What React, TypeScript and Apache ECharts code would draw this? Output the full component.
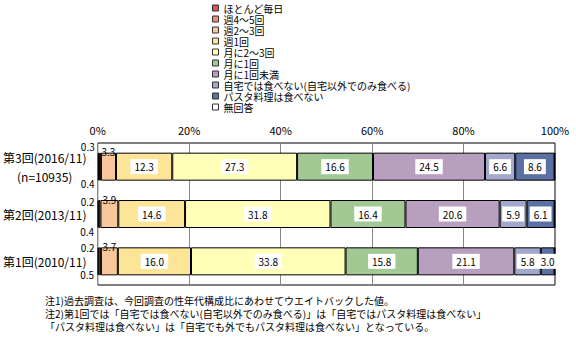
import React, { useEffect, useRef } from "react";
import * as echarts from "echarts";

const categories = ["第3回(2016/11)\n(n=10935)", "第2回(2013/11)", "第1回(2010/11)"];
const seriesNames = [
  "ほとんど毎日",
  "週4～5回",
  "週2～3回",
  "週1回",
  "月に2～3回",
  "月に1回",
  "月に1回未満",
  "自宅では食べない(自宅以外でのみ食べる)",
  "パスタ料理は食べない",
  "無回答",
];
const hotondo = [0.3, 0.2, 0.2];
const shu45 = [0.4, 0.4, 0.5];
const shu23 = [3.3, 3.9, 3.7];
const shu1 = [12.3, 14.6, 16.0];
const tsuki23 = [27.3, 31.8, 33.8];
const tsuki1 = [16.6, 16.4, 15.8];
const tsuki1miman = [24.5, 20.6, 21.1];
const jitakuNo = [6.6, 5.9, 5.8];
const pastaNo = [8.6, 6.1, 3.0];
const mukaitou = [0.1, 0.1, 0.1];
const xTicks = [0, 20, 40, 60, 80, 100];
const notes = [
  "注1)過去調査は、今回調査の性年代構成比にあわせてウエイトバックした値。",
  "注2)第1回では「自宅では食べない(自宅以外でのみ食べる)」は「自宅ではパスタ料理は食べない」",
  "「パスタ料理は食べない」は「自宅でも外でもパスタ料理は食べない」となっている。",
];

const colors = [
  "#e0505c",
  "#e8907c",
  "#f8c89a",
  "#fde598",
  "#ffffb8",
  "#a2c993",
  "#b99fbf",
  "#a1a8cc",
  "#5a6fa2",
  "#ffffff",
];

const FONT = "'Noto Sans CJK JP', sans-serif";

export default function App() {
  const ref = useRef<HTMLDivElement>(null);
  useEffect(() => {
    if (!ref.current) return;
    const chart = echarts.init(ref.current, undefined, { renderer: "svg" });
    const values = [hotondo, shu45, shu23, shu1, tsuki23, tsuki1, tsuki1miman, jitakuNo, pastaNo, mukaitou];

    const leftPos0: number[][] = [[-3, -6.5], [-3, 1.5], [-3, 0.5]];
    const leftPos1: number[][] = [[-4.5, 31], [-4.5, 31], [-4.5, 27.5]];

    const series = values.map((vals, si) => {
      const base: any = {
        name: seriesNames[si],
        type: "bar",
        stack: "total",
        barWidth: 28,
        itemStyle: { color: colors[si], borderColor: "#000", borderWidth: 1 },
      };
      if (si === 0 || si === 1) {
        const pos = si === 0 ? leftPos0 : leftPos1;
        base.data = vals.map((v, i) => ({
          value: v,
          label: {
            show: true,
            position: pos[i],
            align: "right",
            verticalAlign: "middle",
          },
        }));
        base.label = {
          show: true,
          formatter: (p: any) => Number(p.value).toFixed(1),
          fontSize: 10,
          fontFamily: FONT,
          color: "#000",
        };
      } else if (si === 2) {
        base.data = vals;
        base.label = {
          show: true,
          position: "top",
          distance: -4,
          formatter: (p: any) => Number(p.value).toFixed(1),
          fontSize: 10,
          fontFamily: FONT,
          color: "#000",
        };
      } else if (si === 9) {
        base.data = vals;
        base.label = { show: false };
      } else {
        base.data = vals;
        base.label = {
          show: true,
          position: "inside",
          formatter: (p: any) => Number(p.value).toFixed(1),
          fontSize: 10,
          lineHeight: 11,
          fontFamily: FONT,
          color: "#000",
          backgroundColor: "#fff",
          padding: [2, 4, 2, 4],
        };
      }
      return base;
    });

    chart.setOption({
      animation: false,
      textStyle: { fontFamily: FONT },
      legend: {
        orient: "vertical",
        left: 207,
        top: -2,
        itemWidth: 6,
        itemHeight: 6,
        itemGap: 1,
        icon: "rect",
        data: seriesNames,
        selectedMode: false,
        itemStyle: { borderColor: "#333", borderWidth: 1 },
        textStyle: { fontSize: 10, lineHeight: 10, color: "#000", fontFamily: FONT },
      },
      grid: {
        left: 97,
        right: 21,
        top: 143,
        bottom: 61,
        show: true,
        borderColor: "#000",
        borderWidth: 1,
        backgroundColor: "transparent",
      },
      xAxis: {
        type: "value",
        position: "top",
        min: xTicks[0],
        max: xTicks[xTicks.length - 1],
        interval: xTicks[1] - xTicks[0],
        axisLine: { show: false },
        axisTick: { show: false },
        axisLabel: {
          formatter: "{value}%",
          fontSize: 11,
          color: "#000",
          margin: 8,
          fontFamily: FONT,
        },
        splitLine: { show: true, lineStyle: { color: "#888", width: 1 } },
      },
      yAxis: {
        type: "category",
        inverse: true,
        data: categories,
        axisLine: { show: false },
        axisTick: { show: false },
        axisLabel: {
          align: "center",
          margin: 53,
          fontSize: 12,
          lineHeight: 19,
          color: "#000",
          fontFamily: FONT,
        },
      },
      graphic: notes.map((t, i) => ({
        type: "text",
        left: 45,
        top: 295 + i * 13,
        style: { text: t, fontSize: 10, fill: "#000", fontFamily: FONT },
      })),
      series,
    });
    return () => chart.dispose();
  }, []);
  return (
    <div
      ref={ref}
      style={{ position: "fixed", left: 0, top: 0, width: 576, height: 346, background: "#fff" }}
    />
  );
}
